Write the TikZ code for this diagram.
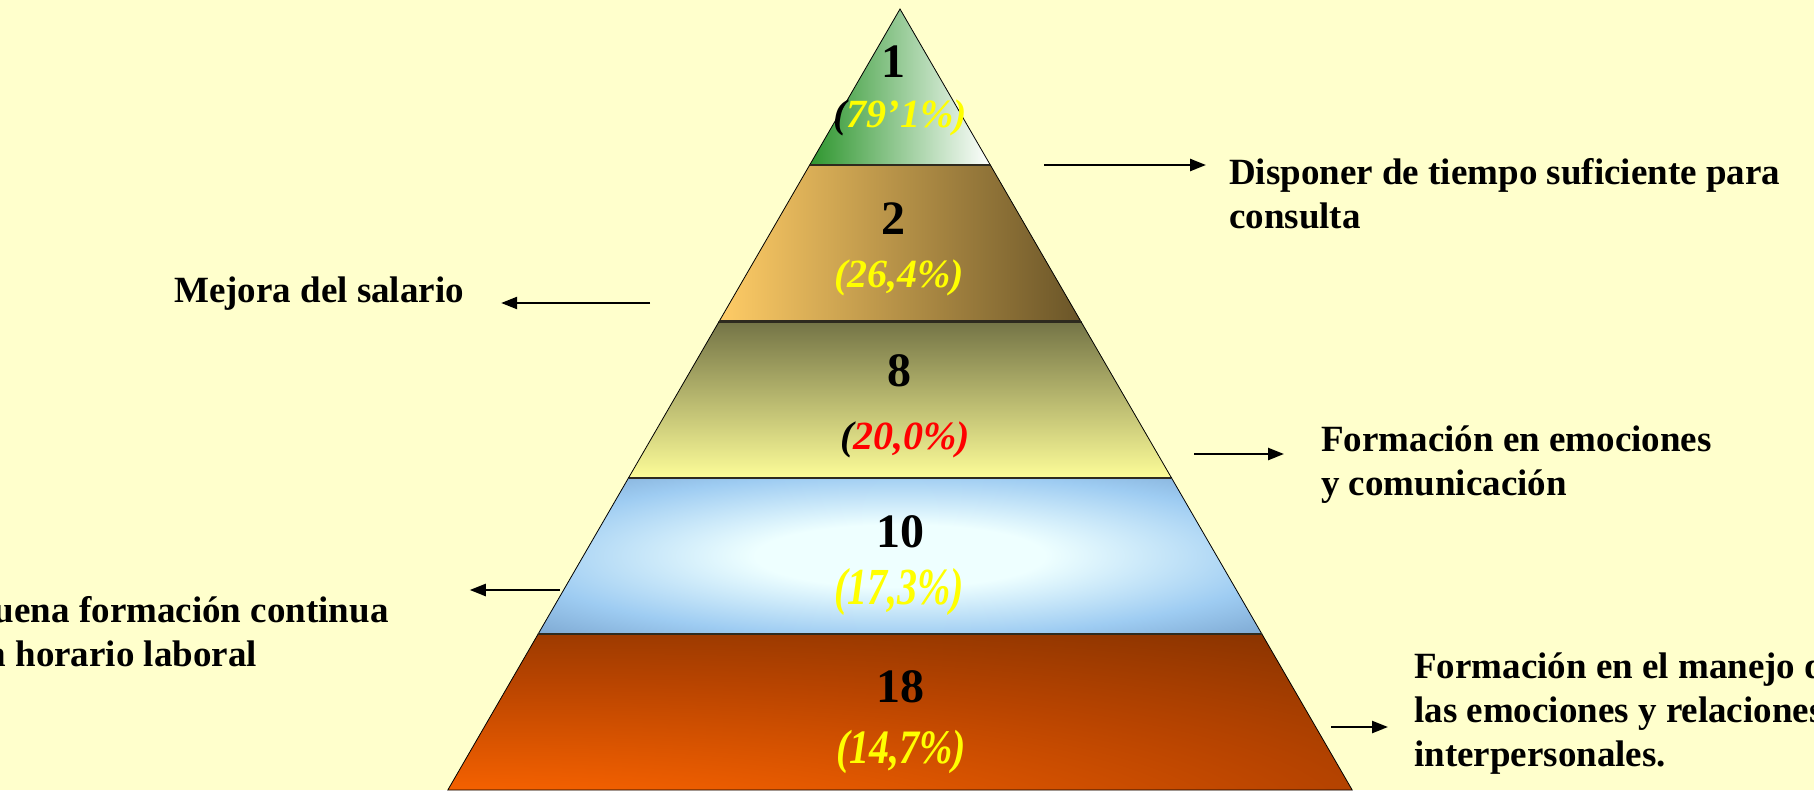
\documentclass[tikz,border=0pt]{standalone}
\usepackage{fontspec}
\setmainfont{Liberation Serif}
\usepackage{graphicx}
\usepackage{tikz}
\usetikzlibrary{arrows.meta}
\usepackage{xcolor}
\definecolor{slidebg}{HTML}{FFFFCC}
\definecolor{leafgreen}{HTML}{2E962E}
\definecolor{sandlight}{HTML}{FFCC66}
\definecolor{sandmid}{HTML}{D7AA5A}
\definecolor{sanddark}{HTML}{6A5528}
\definecolor{olivedark}{HTML}{747446}
\definecolor{olivelight}{HTML}{FCFC98}
\definecolor{glowin}{HTML}{EEFFFF}
\definecolor{glowmid}{HTML}{9ECCF2}
\definecolor{glowout}{HTML}{76A0CA}
\definecolor{emberhot}{HTML}{FF6600}
\definecolor{embermid}{HTML}{B84400}
\definecolor{emberdark}{HTML}{7A2E00}
\definecolor{seamdark}{HTML}{2E2A1E}
\definecolor{pctyellow}{HTML}{FFFF00}
\pgfdeclareradialshading{bandglow}{\pgfpoint{0bp}{0bp}}{color(0bp)=(glowin); color(10bp)=(glowin); color(26bp)=(glowmid); color(38bp)=(glowout); color(75bp)=(glowout)}
\pgfdeclareradialshading{emberglow}{\pgfpoint{-30bp}{-52bp}}{color(0bp)=(emberhot); color(14bp)=(emberhot); color(42bp)=(embermid); color(66bp)=(emberdark); color(110bp)=(emberdark)}
\tikzset{
  bandone/.style={left color=leafgreen, right color=white},
  bandtwo/.style={left color=sandlight, middle color=sandmid, right color=sanddark},
  bandthree/.style={top color=olivedark, bottom color=olivelight},
  bandfour/.style={shading=bandglow},
  bandfive/.style={shading=emberglow},
  edge/.style={draw=black, line width=0.8pt},
  seam/.style={draw=seamdark, line width=2.2pt},
  num/.style={font=\fontsize{48}{48}\selectfont\bfseries, inner sep=0pt},
  pct/.style={font=\fontsize{40}{40}\selectfont\bfseries\itshape, inner sep=0pt, text=pctyellow},
  lbl/.style={font=\fontsize{37}{44}\selectfont\bfseries, align=left, inner sep=0pt, anchor=west},
  arr/.style={-{Triangle[length=16pt,width=12pt]}, line width=2.4pt, draw=black},
}

\begin{document}
\begin{tikzpicture}[x=1pt, y=-1pt]
  \useasboundingbox (0,0) rectangle (1814,790);
  \clip (0,0) rectangle (1814,790);
  \fill[slidebg] (0,0) rectangle (1814,790);
  % pyramid: apex (900,9), five bands of equal height
  \foreach \k/\shd in {0/bandone,1/bandtwo,2/bandthree,3/bandfour,4/bandfive}{
    \pgfmathsetmacro\yt{9+156.2*\k}
    \pgfmathsetmacro\yb{9+156.2*(\k+1)}
    \pgfmathsetmacro\wt{0.579*(\yt-9)}
    \pgfmathsetmacro\wb{0.579*(\yb-9)}
    \shadedraw[\shd, edge] (900-\wt,\yt) -- (900+\wt,\yt) -- (900+\wb,\yb)
      -- (900-\wb,\yb) -- cycle;
    \draw[seam] (900-\wt,\yt) -- (900+\wt,\yt);
  }
  % ranks and shares
  \node[num] (n1) at (893,62) {1};
  \node[pct] (p1) at (900,118) {\textcolor{black}{(}79’1\%)};
  \node[num] (n2) at (893,219) {2};
  \node[pct] (p2) at (899,278) {(26,4\%)};
  \node[num] (n3) at (899,371) {8};
  \node[pct, text=red] (p3) at (905,440) {\textcolor{black}{(}20,0\%)};
  \node[num] (n4) at (900,532) {10};
  \node[pct] (p4) at (899,592) {\scalebox{1}[1.3]{(17,3\%)}};
  \node[num] (n5) at (900,687) {18};
  \node[pct] (p5) at (901,752) {\scalebox{1}[1.2]{(14,7\%)}};
  % side labels
  \node[lbl] (tiempo) at (1229,194) {Disponer de tiempo suficiente para\\consulta};
  \node[lbl] (salario) at (174,294) {Mejora del salario};
  \node[lbl] (emociones) at (1321,465) {Formación en emociones\\y comunicación};
  \node[lbl] (continua) at (-31,632) {Buena formación continua\\en horario laboral};
  \node[lbl] (manejo) at (1414,714) {Formación en el manejo de\\las emociones y relaciones\\interpersonales.};
  % arrows
  \coordinate (s1) at (1044,165);
  \coordinate (s2) at (650,303);
  \coordinate (s3) at (1194,454);
  \coordinate (s4) at (560,590);
  \coordinate (s5) at (1331,727);
  \draw[arr, shorten >=23pt] (s1) -- (s1 -| tiempo.west);
  \draw[arr, shorten >=37pt] (s2) -- (s2 -| salario.east);
  \draw[arr, shorten >=37pt] (s3) -- (s3 -| emociones.west);
  \draw[arr, shorten >=81pt] (s4) -- (s4 -| continua.east);
  \draw[arr, shorten >=26pt] (s5) -- (s5 -| manejo.west);
\end{tikzpicture}
\end{document}
